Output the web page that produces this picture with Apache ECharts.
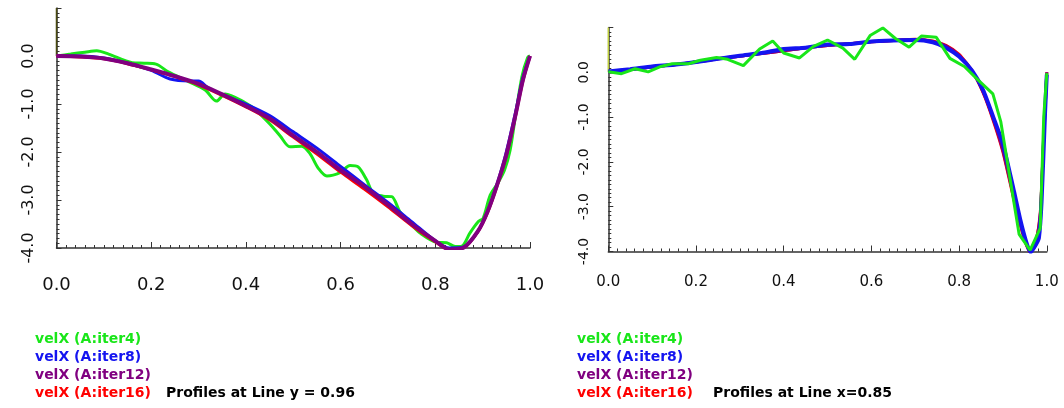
<!DOCTYPE html>
<html>
<head>
<meta charset="utf-8">
<title>velX profiles</title>
<script src="https://cdn.jsdelivr.net/npm/echarts@6/dist/echarts.min.js"></script>
<style>
  html, body { margin: 0; padding: 0; background: #fff; }
  #chart { width: 1064px; height: 408px; }
</style>
</head>
<body>
<div id="chart"></div>
<script>
// series names (legend entries)
const names = ["velX (A:iter4)", "velX (A:iter8)", "velX (A:iter12)", "velX (A:iter16)"];
const colors = ["#19e619", "#1414f0", "#800080", "#ff0000"];
const titles = ["Profiles at Line y = 0.96", "Profiles at Line x=0.85"];

// left chart: profiles at line y = 0.96, [x, velX]
const leftIter4 = [[0,0],[0.03,0.04],[0.06,0.08],[0.085,0.11],[0.11,0.04],[0.16,-0.14],[0.185,-0.15],[0.21,-0.17],[0.236,-0.33],[0.278,-0.53],[0.314,-0.71],[0.338,-0.94],[0.356,-0.79],[0.398,-0.97],[0.42,-1.12],[0.451,-1.42],[0.472,-1.66],[0.493,-1.89],[0.518,-1.88],[0.535,-2.03],[0.553,-2.34],[0.571,-2.5],[0.599,-2.43],[0.62,-2.28],[0.637,-2.31],[0.655,-2.58],[0.669,-2.86],[0.69,-2.92],[0.708,-2.93],[0.725,-3.24],[0.747,-3.49],[0.768,-3.69],[0.803,-3.88],[0.824,-3.89],[0.842,-3.97],[0.856,-3.96],[0.873,-3.69],[0.891,-3.45],[0.901,-3.38],[0.916,-2.9],[0.932,-2.65],[0.946,-2.38],[0.958,-1.96],[0.969,-1.27],[0.983,-0.43],[0.995,-0.03],[1,0]];
const leftIter8 = [[0,0],[0.05,0],[0.1,-0.04],[0.15,-0.15],[0.2,-0.3],[0.24,-0.48],[0.28,-0.52],[0.3,-0.52],[0.32,-0.66],[0.35,-0.8],[0.4,-1.0],[0.45,-1.24],[0.5,-1.58],[0.55,-1.92],[0.6,-2.3],[0.65,-2.68],[0.7,-3.05],[0.75,-3.45],[0.8,-3.85],[0.83,-4.0],[0.86,-3.98],[0.89,-3.65],[0.91,-3.25],[0.93,-2.68],[0.95,-2.0],[0.97,-1.15],[0.985,-0.45],[1,0]];
const leftIter12 = [[0,0],[0.05,-0.01],[0.1,-0.05],[0.15,-0.15],[0.2,-0.28],[0.25,-0.42],[0.3,-0.58],[0.35,-0.8],[0.4,-1.04],[0.45,-1.3],[0.5,-1.66],[0.55,-2.0],[0.6,-2.38],[0.65,-2.72],[0.7,-3.1],[0.75,-3.5],[0.8,-3.85],[0.83,-4.03],[0.86,-3.99],[0.89,-3.65],[0.91,-3.25],[0.93,-2.7],[0.95,-2.05],[0.97,-1.2],[0.985,-0.5],[1,0]];
const leftIter16 = [[0,0],[0.05,-0.02],[0.1,-0.06],[0.15,-0.16],[0.2,-0.29],[0.25,-0.43],[0.3,-0.6],[0.35,-0.82],[0.4,-1.06],[0.45,-1.33],[0.5,-1.69],[0.55,-2.04],[0.6,-2.42],[0.65,-2.77],[0.7,-3.14],[0.75,-3.53],[0.8,-3.87],[0.83,-4.04],[0.86,-4.0],[0.89,-3.66],[0.91,-3.27],[0.93,-2.72],[0.95,-2.08],[0.97,-1.22],[0.985,-0.52],[1,0]];

// right chart: profiles at line x = 0.85, [y, velX]
const rightIter4 = [[0,0.01],[0.03,-0.03],[0.061,0.08],[0.091,0.01],[0.12,0.13],[0.146,0.19],[0.183,0.19],[0.21,0.27],[0.247,0.33],[0.272,0.29],[0.308,0.15],[0.345,0.52],[0.375,0.7],[0.4,0.43],[0.436,0.32],[0.468,0.58],[0.5,0.72],[0.535,0.54],[0.562,0.29],[0.597,0.82],[0.626,0.99],[0.654,0.76],[0.686,0.56],[0.714,0.81],[0.748,0.78],[0.779,0.31],[0.812,0.13],[0.843,-0.17],[0.877,-0.48],[0.895,-1.1],[0.937,-3.62],[0.962,-3.97],[0.985,-3.48],[0.993,-1.0],[1,-0.02]];
const rightIter8 = [[0,0.02],[0.05,0.07],[0.1,0.13],[0.15,0.17],[0.2,0.23],[0.25,0.3],[0.3,0.37],[0.35,0.43],[0.4,0.52],[0.45,0.55],[0.5,0.62],[0.55,0.63],[0.6,0.69],[0.65,0.71],[0.7,0.72],[0.74,0.67],[0.77,0.55],[0.8,0.35],[0.83,0.03],[0.855,-0.4],[0.878,-1.0],[0.9,-1.6],[0.925,-2.65],[0.94,-3.31],[0.952,-3.75],[0.963,-4.02],[0.975,-3.85],[0.982,-3.7],[0.988,-2.9],[0.996,-0.9],[1,-0.05]];
const rightIter12 = [[0,0],[0.05,0.06],[0.1,0.12],[0.15,0.17],[0.2,0.23],[0.25,0.3],[0.3,0.36],[0.35,0.42],[0.4,0.48],[0.45,0.55],[0.5,0.6],[0.55,0.64],[0.6,0.68],[0.65,0.71],[0.7,0.73],[0.74,0.69],[0.77,0.59],[0.8,0.38],[0.83,0.02],[0.855,-0.45],[0.878,-1.05],[0.9,-1.75],[0.925,-2.8],[0.94,-3.4],[0.952,-3.8],[0.963,-4.02],[0.975,-3.8],[0.985,-3.2],[0.993,-1.5],[1,0]];
const rightIter16 = [[0,0],[0.05,0.06],[0.1,0.12],[0.15,0.17],[0.2,0.23],[0.25,0.3],[0.3,0.36],[0.35,0.42],[0.4,0.48],[0.45,0.55],[0.5,0.6],[0.55,0.64],[0.6,0.68],[0.65,0.71],[0.7,0.74],[0.74,0.7],[0.77,0.6],[0.8,0.4],[0.83,0.03],[0.855,-0.46],[0.878,-1.08],[0.9,-1.78],[0.925,-2.84],[0.94,-3.42],[0.952,-3.82],[0.963,-4.02],[0.975,-3.78],[0.985,-3.15],[0.993,-1.45],[1,0]];

// upper part of the y axis (0 .. top) is drawn in another colour in the original
const axisTop = [[0,0],[0,1]];

const font = "DejaVu Sans";
const fmt = v => (v > 0.5 ? "" : v.toFixed(1));

function xAxisFor(gridIndex, size, margin) {
  return {
    type: "value", gridIndex: gridIndex, min: 0, max: 1, interval: 0.2,
    axisLine: { show: true, onZero: false, lineStyle: { color: "#333", width: 1.5 } },
    axisTick: { inside: true, length: 6, lineStyle: { color: "#333" } },
    minorTick: { show: true, splitNumber: 10, length: 3, lineStyle: { color: "#333" } },
    splitLine: { show: false },
    axisLabel: { fontFamily: font, fontSize: size, color: "#111", margin: margin, formatter: v => v.toFixed(1) }
  };
}

function yAxisFor(gridIndex, size, margin) {
  return {
    type: "value", gridIndex: gridIndex, min: -4, max: 1, interval: 1,
    axisLine: { show: true, onZero: false, lineStyle: { color: "#333", width: 1.5 } },
    axisTick: { inside: true, length: 5, lineStyle: { color: "#333" } },
    minorTick: { show: true, splitNumber: 10, length: 3, lineStyle: { color: "#333" } },
    splitLine: { show: false },
    axisLabel: { fontFamily: font, fontSize: size, color: "#111", margin: margin, rotate: 90, formatter: fmt }
  };
}

function line(name, idx, data, color, width, smooth) {
  return {
    name: name, type: "line", xAxisIndex: idx, yAxisIndex: idx, data: data,
    showSymbol: false, smooth: smooth, color: color,
    lineStyle: { color: color, width: width }
  };
}

function legendFor(left) {
  return {
    orient: "vertical", left: left, top: 332, height: 80, padding: 0, icon: "none",
    itemWidth: 0, itemHeight: 14, itemGap: 4, selectedMode: false,
    data: names.map((n, i) => ({ name: n, textStyle: { color: colors[i] } })),
    textStyle: { fontFamily: font, fontWeight: "bold", fontSize: 14, lineHeight: 14 }
  };
}

const titleStyle = { fontFamily: font, fontWeight: "bold", fontSize: 14, color: "#000", lineHeight: 14 };

const chart = echarts.init(document.getElementById("chart"));
chart.setOption({
  animation: false,
  backgroundColor: "#fff",
  title: [
    { text: titles[0], left: 166, top: 386, padding: 0, textStyle: titleStyle },
    { text: titles[1], left: 713, top: 386, padding: 0, textStyle: titleStyle }
  ],
  legend: [legendFor(30), legendFor(572)],
  grid: [
    { left: 56.5, width: 473.5, top: 8, height: 240 },
    { left: 608.3, width: 438.5, top: 27.5, height: 224 }
  ],
  xAxis: [xAxisFor(0, 18, 28), xAxisFor(1, 15, 23)],
  yAxis: [yAxisFor(0, 16, 20), yAxisFor(1, 14, 17)],
  series: [
    { type: "line", xAxisIndex: 0, yAxisIndex: 0, data: axisTop, showSymbol: false, silent: true, lineStyle: { color: "#4a4a10", width: 1.5 } },
    { type: "line", xAxisIndex: 1, yAxisIndex: 1, data: axisTop, showSymbol: false, silent: true, lineStyle: { color: "#bccb3c", width: 1.5 } },
    line(names[0], 0, leftIter4, colors[0], 3, 0.3),
    line(names[1], 0, leftIter8, colors[1], 3, 0.3),
    line(names[3], 0, leftIter16, colors[3], 3, 0.3),
    line(names[2], 0, leftIter12, colors[2], 4, 0.3),
    line(names[3], 1, rightIter16, colors[3], 3, 0.2),
    line(names[2], 1, rightIter12, colors[2], 3, 0.2),
    line(names[1], 1, rightIter8, colors[1], 4, 0.2),
    line(names[0], 1, rightIter4, colors[0], 3, false)
  ]
});
</script>
</body>
</html>
